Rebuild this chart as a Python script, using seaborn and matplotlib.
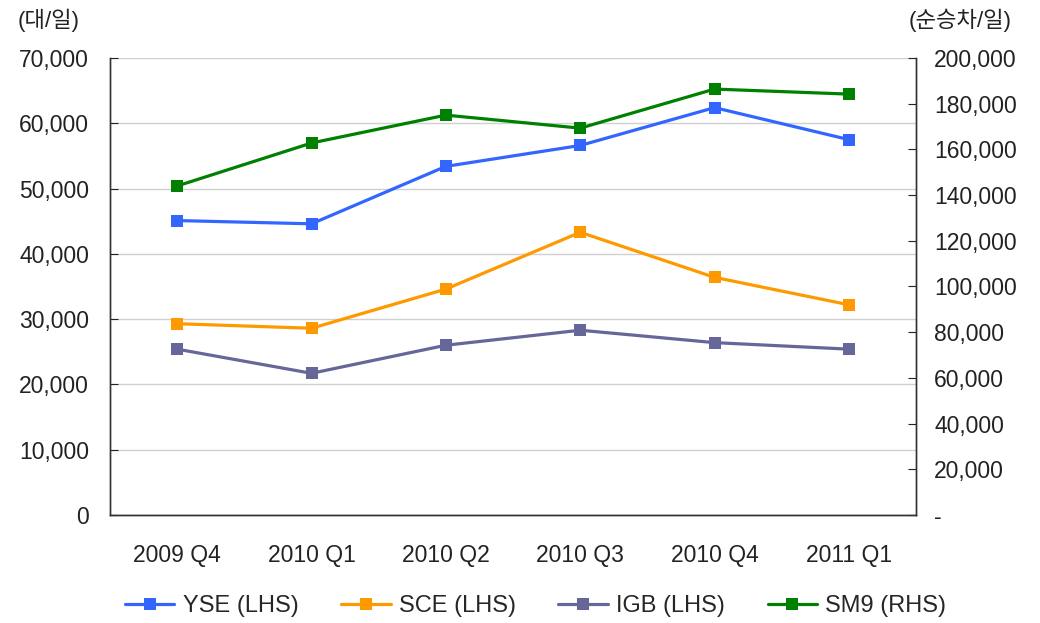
import pandas as pd
import seaborn as sns
import matplotlib.pyplot as plt
from matplotlib.ticker import FuncFormatter, FixedLocator

# Data
quarters = ['2009 Q4', '2010 Q1', '2010 Q2', '2010 Q3', '2010 Q4', '2011 Q1']
yse = [45100, 44600, 53400, 56600, 62400, 57500]
sce = [29300, 28600, 34600, 43300, 36400, 32200]
igb = [25400, 21700, 26000, 28300, 26400, 25400]
sm9 = [144000, 162800, 175000, 169300, 186400, 184200]

sns.set_style('white')
plt.rcParams['font.family'] = ['Liberation Sans', 'Noto Sans CJK KR', 'DejaVu Sans']

colors = {'YSE (LHS)': '#3366ff', 'SCE (LHS)': '#ff9900', 'IGB (LHS)': '#666699', 'SM9 (RHS)': '#008000'}

left = pd.DataFrame({
    'x': list(range(6)) * 3,
    'value': yse + sce + igb,
    'series': ['YSE (LHS)'] * 6 + ['SCE (LHS)'] * 6 + ['IGB (LHS)'] * 6,
})
right = pd.DataFrame({'x': list(range(6)), 'value': sm9, 'series': ['SM9 (RHS)'] * 6})

fig = plt.figure(figsize=(10.4, 6.23), dpi=100)
ax = fig.add_axes([0.1058, 0.1734, 0.775, 0.7335])
ax2 = ax.twinx()

sns.lineplot(data=left, x='x', y='value', hue='series', palette=colors, marker='s',
             markersize=8, markeredgewidth=0, linewidth=2.3, ax=ax, legend=False)
sns.lineplot(data=right, x='x', y='value', hue='series', palette=colors, marker='s',
             markersize=8, markeredgewidth=0, linewidth=2.3, ax=ax2, legend=False)

ax.set_xlim(-0.5, 5.5)
ax.set_ylim(0, 70000)
ax2.set_ylim(0, 200000)
ax.set_yticks(range(0, 70001, 10000))
ax2.set_yticks(range(0, 200001, 20000))
ax.yaxis.set_major_formatter(FuncFormatter(lambda v, p: f'{int(v):,}'))
ax2.yaxis.set_major_formatter(FuncFormatter(lambda v, p: '-' if v == 0 else f'{int(v):,}'))

ax.set_xticks(range(6))
ax.set_xticklabels(quarters)
ax.xaxis.set_minor_locator(FixedLocator([0.5, 1.5, 2.5, 3.5, 4.5]))
ax.tick_params(axis='x', which='major', length=0, pad=21, labelsize=16.5, colors='#222222')
ax.tick_params(axis='x', which='minor', length=6, direction='in', width=1, color='#333333')
ax.tick_params(axis='y', length=6, direction='in', labelsize=16.5, pad=15, colors='#222222')
ax2.tick_params(axis='y', length=6, direction='in', labelsize=16.5, pad=13, colors='#222222')
ax.set_xlabel('')
ax.set_ylabel('')
ax2.set_ylabel('')

ax.yaxis.grid(True, color='#d0d0d0', linewidth=1)
ax.set_axisbelow(True)
for a in (ax, ax2):
    for s in a.spines.values():
        s.set_color('#333333')
        s.set_linewidth(1)
ax.spines['top'].set_visible(False)
ax2.spines['top'].set_visible(False)

fig.text(0.017, 0.968, '(대/일)', fontsize=16, color='#222222', ha='left', va='center')
fig.text(0.973, 0.968, '(순승차/일)', fontsize=16, color='#222222', ha='right', va='center')

handles = [plt.Line2D([], [], color=c, marker='s', markersize=8, linewidth=2.3, markeredgewidth=0)
           for c in colors.values()]
fig.legend(handles, list(colors.keys()), loc='lower center', ncol=4, frameon=False,
           bbox_to_anchor=(0.515, -0.025), fontsize=17, handlelength=2.1, columnspacing=1.8,
           handletextpad=0.35)

fig.savefig('out.png', dpi=100)
